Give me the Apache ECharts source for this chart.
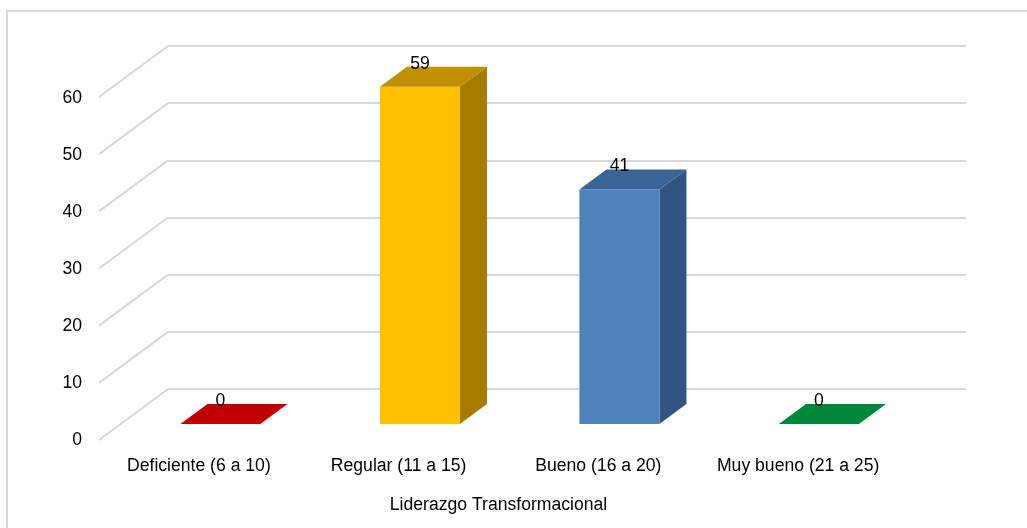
<!DOCTYPE html>
<html>
<head>
<meta charset="utf-8">
<script src="https://cdn.jsdelivr.net/npm/echarts@6/dist/echarts.min.js"></script>
<style>html,body{margin:0;padding:0;background:#fff;}#c{width:1027px;height:528px;}</style>
</head>
<body>
<div id="c"></div>
<script>
const categories = ['Deficiente (6 a 10)', 'Regular (11 a 15)', 'Bueno (16 a 20)', 'Muy bueno (21 a 25)'];
const values = [0, 59, 41, 0];
const yTicks = [0, 10, 20, 30, 40, 50, 60];
const axisTitle = 'Liderazgo Transformacional';
const frontColors = ['#C00000', '#FFC000', '#4F81BD', '#00A650'];
const topColors = ['#C00000', '#C09000', '#3B6496', '#00873C'];
const sideColors = ['#900000', '#A67C00', '#325482', '#006A2F'];

const DX = 69, DY = 51;       // depth projection offsets (back wall -> front edge)
const FD = 0.686, BD = 0.294; // bar front/back depth fractions
const FONT = 'Liberation Sans, Arial, sans-serif';

const chart = echarts.init(document.getElementById('c'), null, {renderer: 'canvas'});
chart.setOption({
  animation: false,
  backgroundColor: '#fff',
  graphic: [{
    type: 'rect', shape: {x: 7, y: 11, width: 1060, height: 560},
    style: {fill: 'none', stroke: '#d9d9d9', lineWidth: 2}, silent: true, z: -10
  }],
  grid: [
    {left: 168, right: 61, top: 46, bottom: 139},
    {left: 99, right: 129, top: 98, bottom: 88}
  ],
  xAxis: [
    {gridIndex: 0, type: 'category', data: categories, show: false},
    {gridIndex: 1, type: 'category', data: categories,
     axisLine: {show: false}, axisTick: {show: false},
     axisLabel: {interval: 0, margin: 17, fontSize: 17.6, color: '#000', fontFamily: FONT},
     name: axisTitle, nameLocation: 'middle', nameGap: 56,
     nameTextStyle: {fontSize: 17.6, color: '#000', fontFamily: FONT}}
  ],
  yAxis: [
    {gridIndex: 0, type: 'value', min: 0, max: 60, interval: 10,
     axisLine: {show: false}, axisTick: {show: false}, axisLabel: {show: false},
     splitLine: {lineStyle: {color: '#d9d9d9', width: 2}}},
    {gridIndex: 1, type: 'value', min: 0, max: 60, interval: 10,
     axisLine: {show: false}, axisTick: {show: false}, splitLine: {show: false},
     axisLabel: {margin: 17, fontSize: 17.6, color: '#000', fontFamily: FONT}}
  ],
  series: [
    {
      type: 'custom', xAxisIndex: 0, yAxisIndex: 0, silent: true, z: 1,
      data: yTicks.map(v => [0, v]),
      renderItem: function (params, api) {
        const x0 = params.coordSys.x;
        const y = api.coord([0, api.value(1)])[1];
        return {type: 'line', shape: {x1: x0, y1: y, x2: x0 - DX, y2: y + DY},
                style: {stroke: '#d9d9d9', lineWidth: 2}};
      }
    },
    {
      type: 'custom', xAxisIndex: 0, yAxisIndex: 0, silent: true, z: 5,
      data: values.map((v, i) => [i, v]),
      renderItem: function (params, api) {
        const i = api.value(0), v = api.value(1);
        const band = api.size([1, 0])[0];
        const w = band * 0.401;
        const c = api.coord([i, 0]);
        const t = api.coord([i, v]);
        const fx = c[0] - DX * FD, fyB = c[1] + DY * FD, fyT = t[1] + DY * FD;
        const bx = c[0] - DX * BD, byB = c[1] + DY * BD, byT = t[1] + DY * BD;
        const xl = fx - w / 2, xr = fx + w / 2, bxl = bx - w / 2, bxr = bx + w / 2;
        const children = [];
        if (v > 0) {
          children.push({type: 'polygon', shape: {points: [[xr, fyT], [bxr, byT], [bxr, byB], [xr, fyB]]},
                         style: {fill: sideColors[i]}});
          children.push({type: 'rect', shape: {x: xl, y: fyT, width: w, height: fyB - fyT},
                         style: {fill: frontColors[i]}});
        }
        children.push({type: 'polygon', shape: {points: [[xl, fyT], [xr, fyT], [bxr, byT], [bxl, byT]]},
                       style: {fill: topColors[i]}});
        children.push({type: 'text', x: fx, y: byT - 3,
                       style: {text: String(v), fill: '#000', font: '17.6px ' + FONT,
                               align: 'center', verticalAlign: 'middle'}});
        return {type: 'group', children: children};
      }
    }
  ]
});
</script>
</body>
</html>
